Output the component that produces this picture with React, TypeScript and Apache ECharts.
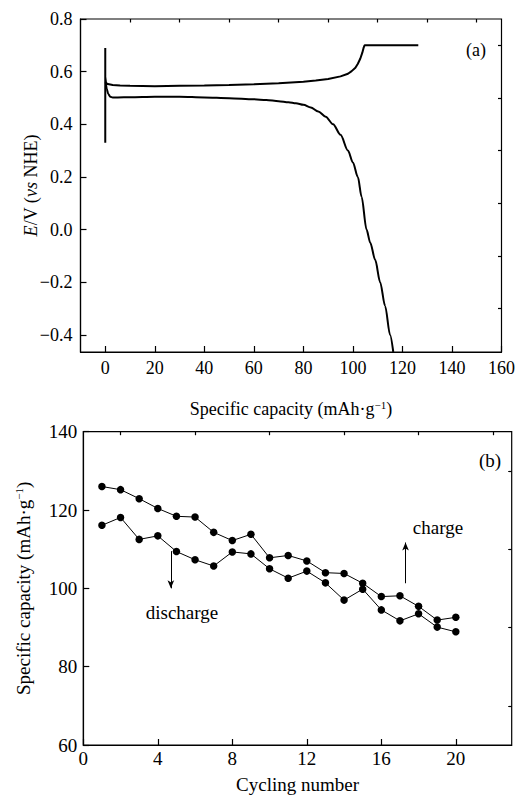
import React, { useEffect, useRef } from "react";
import * as echarts from "echarts";

// ---- (a) charge/discharge curves ----
const chargeX = [0, 0, 0, 0.3, 1, 3, 6, 10, 20, 30, 40, 50, 60, 70, 80, 85, 90, 95, 98, 99.5, 101, 102, 103, 103.8, 104.3, 104.7, 126.4];
const chargeY = [0.33, 0.69, 0.58, 0.557, 0.553, 0.549, 0.547, 0.546, 0.545, 0.546, 0.547, 0.549, 0.552, 0.556, 0.562, 0.566, 0.572, 0.582, 0.592, 0.602, 0.615, 0.63, 0.65, 0.672, 0.69, 0.7, 0.7];
const dischargeX = [0.2, 0.6, 1.2, 2, 3, 5, 10, 20, 30, 40, 50, 60, 65, 70, 74, 77, 80, 83, 86, 89, 92, 95, 98, 100, 102, 103.5, 105.5, 107, 109, 111, 113, 115, 116.3];
const dischargeY = [0.56, 0.535, 0.515, 0.505, 0.502, 0.502, 0.503, 0.505, 0.505, 0.502, 0.499, 0.495, 0.492, 0.488, 0.484, 0.48, 0.474, 0.464, 0.449, 0.429, 0.4, 0.36, 0.3, 0.255, 0.2, 0.125, 0.0, -0.05, -0.115, -0.2, -0.29, -0.4, -0.465];

// ---- (b) cycling ----
const cycles = [1, 2, 3, 4, 5, 6, 7, 8, 9, 10, 11, 12, 13, 14, 15, 16, 17, 18, 19, 20];
const chargeCap = [126.0, 125.2, 122.9, 120.4, 118.4, 118.2, 114.3, 112.2, 113.8, 107.8, 108.4, 107.0, 104.0, 103.8, 101.3, 97.9, 98.1, 95.4, 91.9, 92.6];
const dischargeCap = [116.1, 118.1, 112.5, 113.4, 109.4, 107.3, 105.7, 109.3, 108.8, 105.0, 102.6, 104.4, 101.4, 97.0, 99.8, 94.5, 91.7, 93.5, 90.1, 88.9];

// ---- ticks ----
const aXTicks = [0, 20, 40, 60, 80, 100, 120, 140, 160];
const aXMinor = [10, 30, 50, 70, 90, 110, 130, 150];
const aYTicks = [-0.4, -0.2, 0, 0.2, 0.4, 0.6, 0.8];
const aYMinor = [-0.3, -0.1, 0.1, 0.3, 0.5, 0.7];
const bXTicks = [0, 4, 8, 12, 16, 20];
const bXMinor = [2, 6, 10, 14, 18, 22];
const bYTicks = [60, 80, 100, 120, 140];
const bYMinor = [70, 90, 110, 130];

// arrows (data coords)
const dischargeArrow = [[4.7, 109.5], [4.7, 100.0]];
const chargeArrow = [[17.3, 101.3], [17.3, 111.7]];

const FONT = "'Times New Roman', 'Liberation Serif', 'DejaVu Serif', serif";
const BLACK = "#000";

const richStyles = {
  i: { fontFamily: FONT, fontSize: 18, fontStyle: "italic", color: BLACK },
  n: { fontFamily: FONT, fontSize: 18, color: BLACK },
  sup: { fontFamily: FONT, fontSize: 11, color: BLACK, verticalAlign: "bottom", padding: [0, 0, 9, 0] },
};

function majorAxis(gridIndex: number, min: number, max: number, ticks: number[], fmt: (v: number) => string, extra: any) {
  return {
    type: "value",
    gridIndex,
    min,
    max,
    nameMoveOverlap: false,
    axisLine: { show: true, onZero: false, lineStyle: { color: BLACK, width: 1.2 } },
    axisTick: { show: true, inside: true, length: 6, customValues: ticks, lineStyle: { color: BLACK, width: 1.2 } },
    axisLabel: { show: true, customValues: ticks, formatter: fmt, color: BLACK, fontFamily: FONT, fontSize: 18 },
    splitLine: { show: false },
    ...extra,
  };
}

function minorAxis(gridIndex: number, min: number, max: number, ticks: number[]) {
  return {
    type: "value",
    gridIndex,
    min,
    max,
    axisLine: { show: false, onZero: false },
    axisTick: { show: true, inside: true, length: 3.5, customValues: ticks, lineStyle: { color: BLACK, width: 1.2 } },
    axisLabel: { show: false },
    splitLine: { show: false },
  };
}

const fmtA = (v: number) => (v < 0 ? "\u2212" + Math.abs(v).toFixed(1) : v.toFixed(1));
const fmtInt = (v: number) => String(Math.round(v));

export default function App() {
  const ref = useRef<HTMLDivElement>(null);
  useEffect(() => {
    document.body.style.margin = "0";
    if (!ref.current) return;
    const chart = echarts.init(ref.current, null, { renderer: "svg" });
    const option: any = {
      animation: false,
      backgroundColor: "#fff",
      textStyle: { fontFamily: FONT },
      grid: [
        { left: 80.5, top: 19, width: 421, height: 333, show: true, borderColor: BLACK, borderWidth: 1.2, backgroundColor: "transparent" },
        { left: 83.3, top: 431.7, width: 428.4, height: 315, show: true, borderColor: BLACK, borderWidth: 1.2, backgroundColor: "transparent" },
      ],
      xAxis: [
        majorAxis(0, -10, 160, aXTicks, fmtInt, {
          axisLabel: { show: true, customValues: aXTicks, formatter: fmtInt, color: BLACK, fontFamily: FONT, fontSize: 18, margin: 7 },
          name: "Specific capacity ({n|mAh·g}{sup|\u22121}{n|)}",
          nameLocation: "middle",
          nameGap: 47,
          nameTextStyle: { fontFamily: FONT, fontSize: 18, color: BLACK, rich: richStyles },
        }),
        minorAxis(0, -10, 160, aXMinor),
        majorAxis(1, 0, 23, bXTicks, fmtInt, {
          axisLabel: { show: true, customValues: bXTicks, formatter: fmtInt, color: BLACK, fontFamily: FONT, fontSize: 19, margin: 4 },
          name: "Cycling number",
          nameLocation: "middle",
          nameGap: 30,
          nameTextStyle: { fontFamily: FONT, fontSize: 19, color: BLACK },
        }),
        minorAxis(1, 0, 23, bXMinor),
      ],
      yAxis: [
        majorAxis(0, -0.465, 0.8, aYTicks, fmtA, {
          axisLabel: { show: true, customValues: aYTicks, formatter: fmtA, color: BLACK, fontFamily: FONT, fontSize: 18, margin: 8 },
          name: "{i|E}/V ({i|vs} NHE)",
          nameLocation: "middle",
          nameGap: 41,
          nameTextStyle: { fontFamily: FONT, fontSize: 18, color: BLACK, rich: richStyles },
        }),
        minorAxis(0, -0.465, 0.8, aYMinor),
        majorAxis(1, 60, 140, bYTicks, fmtInt, {
          axisLabel: { show: true, customValues: bYTicks, formatter: fmtInt, color: BLACK, fontFamily: FONT, fontSize: 19, margin: 6 },
          name: "Specific capacity (mAh·g{sup|\u22121})",
          nameLocation: "middle",
          nameGap: 50,
          nameTextStyle: { fontFamily: FONT, fontSize: 19, color: BLACK, rich: { ...richStyles, n: { ...richStyles.n, fontSize: 19 } } },
        }),
        minorAxis(1, 60, 140, bYMinor),
      ],
      series: [
        {
          type: "line",
          xAxisIndex: 0,
          yAxisIndex: 0,
          showSymbol: false,
          smooth: false,
          lineStyle: { color: BLACK, width: 2 },
          data: chargeX.map((x, i) => [x, chargeY[i]]),
        },
        {
          type: "line",
          xAxisIndex: 0,
          yAxisIndex: 0,
          showSymbol: false,
          smooth: 0.3,
          smoothMonotone: "x",
          lineStyle: { color: BLACK, width: 2 },
          data: dischargeX.map((x, i) => [x, dischargeY[i]]),
        },
        {
          type: "line",
          name: "charge",
          xAxisIndex: 2,
          yAxisIndex: 2,
          symbol: "circle",
          symbolSize: 7.5,
          itemStyle: { color: BLACK },
          lineStyle: { color: BLACK, width: 1 },
          data: cycles.map((c, i) => [c, chargeCap[i]]),
          markLine: {
            silent: true,
            symbol: ["none", "arrow"],
            symbolSize: [5, 8],
            label: { show: false },
            lineStyle: { color: BLACK, width: 1, type: "solid" },
            data: [[{ coord: chargeArrow[0] }, { coord: chargeArrow[1] }]],
          },
        },
        {
          type: "line",
          name: "discharge",
          xAxisIndex: 2,
          yAxisIndex: 2,
          symbol: "circle",
          symbolSize: 7.5,
          itemStyle: { color: BLACK },
          lineStyle: { color: BLACK, width: 1 },
          data: cycles.map((c, i) => [c, dischargeCap[i]]),
          markLine: {
            silent: true,
            symbol: ["none", "arrow"],
            symbolSize: [5, 8],
            label: { show: false },
            lineStyle: { color: BLACK, width: 1, type: "solid" },
            data: [[{ coord: dischargeArrow[0] }, { coord: dischargeArrow[1] }]],
          },
        },
      ],
      graphic: [
        { type: "text", x: 476, y: 50, style: { text: "(a)", fontFamily: FONT, fontSize: 18, fill: BLACK, align: "center", verticalAlign: "middle" } },
        { type: "text", x: 490, y: 460, style: { text: "(b)", fontFamily: FONT, fontSize: 19, fill: BLACK, align: "center", verticalAlign: "middle" } },
        { type: "text", x: 438, y: 527, style: { text: "charge", fontFamily: FONT, fontSize: 19, fill: BLACK, align: "center", verticalAlign: "middle" } },
        { type: "text", x: 182, y: 612, style: { text: "discharge", fontFamily: FONT, fontSize: 19, fill: BLACK, align: "center", verticalAlign: "middle" } },
      ],
    };
    chart.setOption(option);
    return () => chart.dispose();
  }, []);
  return <div ref={ref} style={{ width: 520, height: 795 }} />;
}
